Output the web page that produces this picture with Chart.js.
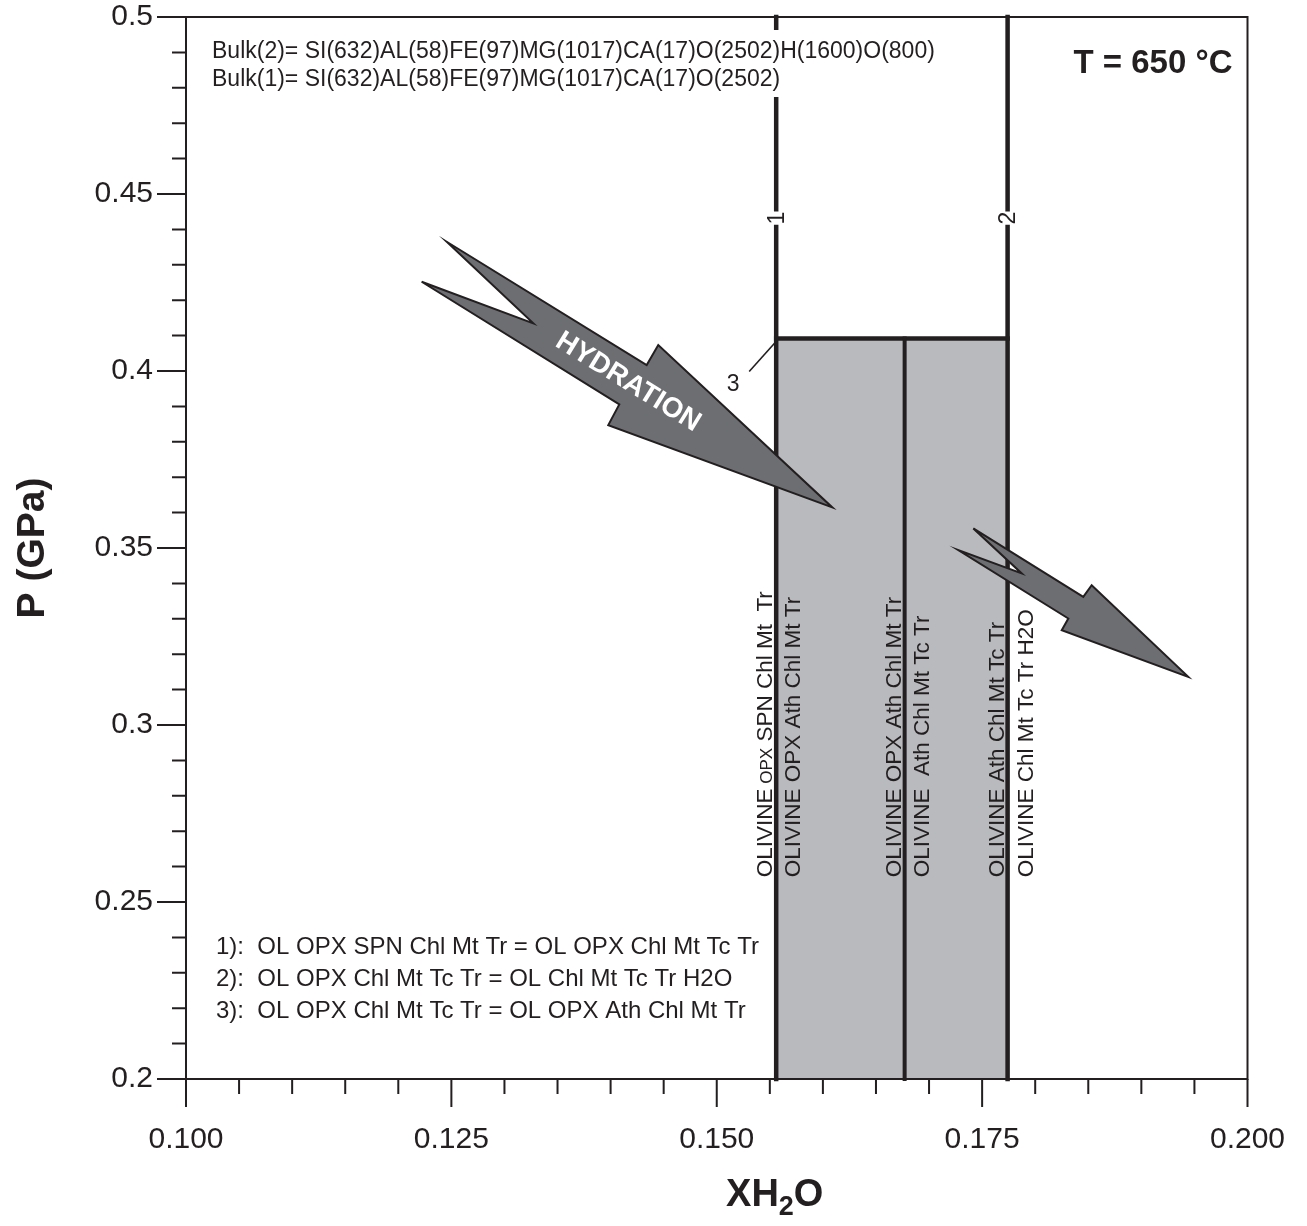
<!DOCTYPE html>
<html>
<head>
<meta charset="utf-8">
<title>XH2O - P section, T = 650 °C</title>
<script src="https://cdn.jsdelivr.net/npm/chart.js@4.4.1/dist/chart.umd.min.js"></script>
<style>
  html, body { margin: 0; padding: 0; background: #fff; }
  #wrap { width: 1307px; height: 1226px; }
</style>
</head>
<body>
<div id="wrap"><canvas id="phaseChart" width="1307" height="1226"></canvas></div>
<script>
// ---- axes -----------------------------------------------------------------
const xRange = [0.100, 0.200];
const yRange = [0.2, 0.5];
const xMajorTicks = [0.100, 0.125, 0.150, 0.175, 0.200];
const xTickLabels = ['0.100', '0.125', '0.150', '0.175', '0.200'];
const yMajorTicks = [0.2, 0.25, 0.3, 0.35, 0.4, 0.45, 0.5];
const yTickLabels = ['0.2', '0.25', '0.3', '0.35', '0.4', '0.45', '0.5'];
const xMinorStep = 0.005;
const yMinorStep = 0.01;

// ---- reaction boundaries --------------------------------------------------
const reaction1X = 0.1556;   // OL OPX SPN Chl Mt Tr = OL OPX Chl Mt Tc Tr
const athInX = 0.1677;       // Ath-in boundary inside the field
const reaction2X = 0.1774;   // OL OPX Chl Mt Tc Tr = OL Chl Mt Tc Tr H2O
const reaction3P = 0.4092;   // OL OPX Chl Mt Tc Tr = OL OPX Ath Chl Mt Tr
const labelGapP = [0.4407, 0.4457];  // break in lines 1 and 2 for their numbers
const lineNumberP = 0.4432;
const fieldLabelP = 0.257;   // where the vertical assemblage labels start

// ---- arrows (outline vertices in XH2O / P) --------------------------------
const hydrationArrowX = [0.12456, 0.14340, 0.14449, 0.16089, 0.13978, 0.14082, 0.12220, 0.13272];
const hydrationArrowP = [0.43651, 0.40167, 0.40732, 0.36146, 0.38471, 0.39056, 0.42521, 0.41345];
const outflowArrowX = [0.17417, 0.18453, 0.18532, 0.19442, 0.18250, 0.18312, 0.17275, 0.17873];
const outflowArrowP = [0.35552, 0.33620, 0.33950, 0.31359, 0.32679, 0.33009, 0.34939, 0.34281];
const hydrationTextAt = [0.14164, 0.39686];

// ---- text ----------------------------------------------------------------
const bulkLines = [
  'Bulk(2)= SI(632)AL(58)FE(97)MG(1017)CA(17)O(2502)H(1600)O(800)',
  'Bulk(1)= SI(632)AL(58)FE(97)MG(1017)CA(17)O(2502)'
];
const reactionLines = [
  '1):  OL OPX SPN Chl Mt Tr = OL OPX Chl Mt Tc Tr',
  '2):  OL OPX Chl Mt Tc Tr = OL Chl Mt Tc Tr H2O',
  '3):  OL OPX Chl Mt Tc Tr = OL OPX Ath Chl Mt Tr'
];
const temperatureLabel = 'T = 650 °C';

const ink = '#231f20';
const fieldGrey = '#b9babd';
const arrowGrey = '#6d6e71';
const FONT = "'Liberation Sans', Arial, Helvetica, sans-serif";
const font = (size, weight) => (weight || 'normal') + ' ' + size + 'px ' + FONT;

Chart.defaults.font.family = FONT;
Chart.defaults.color = ink;

// a vertical boundary with a short break where its number is written
function brokenLine(x) {
  return [
    { x: x, y: yRange[1] }, { x: x, y: labelGapP[1] },
    { x: x, y: null },
    { x: x, y: labelGapP[0] }, { x: x, y: yRange[0] }
  ];
}

// assemblage labels written up the boundaries; dx is the baseline offset in px
const fieldLabels = [
  { x: reaction1X, dx: -4, parts: [['OLIVINE', 22.5], [' OPX', 17], [' SPN Chl Mt  Tr', 22.5]] },
  { x: reaction1X, dx: 24, parts: [['OLIVINE OPX Ath Chl Mt Tr', 22.5]] },
  { x: athInX, dx: -4, parts: [['OLIVINE OPX Ath Chl Mt Tr', 22.5]] },
  { x: athInX, dx: 24, parts: [['OLIVINE  Ath Chl Mt Tc Tr', 22.5]] },
  { x: reaction2X, dx: -4, parts: [['OLIVINE Ath Chl Mt Tc Tr', 22.5]] },
  { x: reaction2X, dx: 25, parts: [['OLIVINE Chl Mt Tc Tr H2O', 22.5]] }
];

function drawArrow(ctx, xs, ps, x, y) {
  ctx.beginPath();
  xs.forEach((v, i) => {
    const px = x.getPixelForValue(v), py = y.getPixelForValue(ps[i]);
    if (i === 0) ctx.moveTo(px, py); else ctx.lineTo(px, py);
  });
  ctx.closePath();
  ctx.fillStyle = arrowGrey;
  ctx.fill();
  ctx.lineWidth = 2;
  ctx.lineJoin = 'miter';
  ctx.strokeStyle = ink;
  ctx.stroke();
}

const phaseDecor = {
  id: 'phaseDecor',
  afterDatasetsDraw(chart) {
    const { ctx, chartArea: a, scales: { x, y } } = chart;
    ctx.save();

    drawArrow(ctx, hydrationArrowX, hydrationArrowP, x, y);
    drawArrow(ctx, outflowArrowX, outflowArrowP, x, y);

    // HYDRATION along the big arrow
    const ax0 = x.getPixelForValue(hydrationArrowX[0]), ay0 = y.getPixelForValue(hydrationArrowP[0]);
    const ax1 = x.getPixelForValue(hydrationArrowX[1]), ay1 = y.getPixelForValue(hydrationArrowP[1]);
    ctx.save();
    ctx.translate(x.getPixelForValue(hydrationTextAt[0]), y.getPixelForValue(hydrationTextAt[1]));
    ctx.rotate(Math.atan2(ay1 - ay0, ax1 - ax0));
    ctx.font = font(28, 'bold');
    ctx.fillStyle = '#ffffff';
    ctx.textAlign = 'center';
    ctx.textBaseline = 'middle';
    ctx.fillText('HYDRATION', 0, 0);
    ctx.restore();

    // vertical assemblage labels
    ctx.fillStyle = ink;
    ctx.textBaseline = 'alphabetic';
    ctx.textAlign = 'left';
    fieldLabels.forEach(lab => {
      ctx.save();
      ctx.translate(x.getPixelForValue(lab.x) + lab.dx, y.getPixelForValue(fieldLabelP));
      ctx.rotate(-Math.PI / 2);
      let off = 0;
      lab.parts.forEach(([txt, size]) => {
        ctx.font = font(size);
        ctx.fillText(txt, off, 0);
        off += ctx.measureText(txt).width;
      });
      ctx.restore();
    });

    // numbers in the breaks of lines 1 and 2
    [[reaction1X, '1'], [reaction2X, '2']].forEach(([rx, num]) => {
      ctx.save();
      ctx.translate(x.getPixelForValue(rx), y.getPixelForValue(lineNumberP));
      ctx.rotate(-Math.PI / 2);
      ctx.font = font(23);
      ctx.textAlign = 'center';
      ctx.textBaseline = 'middle';
      ctx.fillText(num, 0, 1);
      ctx.restore();
    });

    // reaction 3 tag with its leader
    const cx = x.getPixelForValue(reaction1X), cy = y.getPixelForValue(reaction3P);
    ctx.lineWidth = 1.6;
    ctx.strokeStyle = ink;
    ctx.beginPath();
    ctx.moveTo(cx - 27, cy + 33);
    ctx.lineTo(cx - 1, cy + 4);
    ctx.stroke();
    ctx.font = font(23);
    ctx.textAlign = 'center';
    ctx.textBaseline = 'middle';
    ctx.fillText('3', cx - 43, cy + 46);

    // bulk compositions, knocked out of the boundary lines behind them
    ctx.textAlign = 'left';
    ctx.textBaseline = 'alphabetic';
    ctx.font = font(23);
    const bulkW = Math.max(...bulkLines.map(t => ctx.measureText(t).width));
    ctx.fillStyle = '#ffffff';
    ctx.fillRect(a.left + 22, a.top + 13, bulkW + 8, 67);
    ctx.fillStyle = ink;
    bulkLines.forEach((t, i) => ctx.fillText(t, a.left + 26, a.top + 41 + i * 28));
    ctx.font = font(33, 'bold');
    ctx.textAlign = 'right';
    ctx.fillText(temperatureLabel, a.right - 15, a.top + 56);

    // reaction list
    ctx.textAlign = 'left';
    ctx.font = font(24);
    reactionLines.forEach((t, i) => ctx.fillText(t, a.left + 30, a.bottom - 125 + i * 32));

    ctx.restore();
  },
  afterDraw(chart) {
    const { ctx, chartArea: a, scales: { x, y } } = chart;
    ctx.save();
    ctx.strokeStyle = ink;
    ctx.lineWidth = 2;
    ctx.strokeRect(a.left, a.top, a.right - a.left, a.bottom - a.top);

    // outward ticks, long at labelled values
    ctx.beginPath();
    const nx = Math.round((xRange[1] - xRange[0]) / xMinorStep);
    for (let i = 0; i <= nx; i++) {
      const px = x.getPixelForValue(xRange[0] + i * xMinorStep);
      ctx.moveTo(px, a.bottom);
      ctx.lineTo(px, a.bottom + (i % 5 === 0 ? 28 : 15));
    }
    const ny = Math.round((yRange[1] - yRange[0]) / yMinorStep);
    for (let i = 0; i <= ny; i++) {
      const py = y.getPixelForValue(yRange[0] + i * yMinorStep);
      ctx.moveTo(a.left, py);
      ctx.lineTo(a.left - (i % 5 === 0 ? 29 : 14), py);
    }
    ctx.stroke();

    // axis titles
    ctx.fillStyle = ink;
    ctx.save();
    ctx.translate(33, (a.top + a.bottom) / 2);
    ctx.rotate(-Math.PI / 2);
    ctx.font = font(39, 'bold');
    ctx.textAlign = 'center';
    ctx.textBaseline = 'middle';
    ctx.fillText('P (GPa)', 0, 0);
    ctx.restore();

    const parts = [['XH', 38, 0], ['2', 27, 9], ['O', 38, 0]];
    let total = 0;
    parts.forEach(([t, s]) => { ctx.font = font(s, 'bold'); total += ctx.measureText(t).width; });
    let tx = (a.left + a.right) / 2 + 58 - total / 2;
    ctx.textAlign = 'left';
    ctx.textBaseline = 'alphabetic';
    parts.forEach(([t, s, dy]) => {
      ctx.font = font(s, 'bold');
      ctx.fillText(t, tx, 1206 + dy);
      tx += ctx.measureText(t).width;
    });
    ctx.restore();
  }
};

const lineStyle = {
  showLine: true,
  borderColor: ink,
  pointRadius: 0,
  borderCapStyle: 'square',
  clip: false,
  fill: false
};

new Chart(document.getElementById('phaseChart'), {
  type: 'scatter',
  data: {
    datasets: [
      Object.assign({ label: 'Reaction 1', data: brokenLine(reaction1X), borderWidth: 4.5 }, lineStyle),
      Object.assign({ label: 'Reaction 2', data: brokenLine(reaction2X), borderWidth: 4.5 }, lineStyle),
      Object.assign({ label: 'Ath-in', data: [{ x: athInX, y: reaction3P }, { x: athInX, y: yRange[0] }], borderWidth: 4 }, lineStyle),
      Object.assign({}, lineStyle, {
        label: 'Reaction 3',
        data: [{ x: reaction1X, y: reaction3P }, { x: reaction2X, y: reaction3P }],
        borderWidth: 4.5,
        fill: 'start',
        backgroundColor: fieldGrey
      })
    ]
  },
  options: {
    responsive: false,
    animation: false,
    events: [],
    layout: { padding: { top: 17, right: 59.5, bottom: 0, left: 0 } },
    plugins: { legend: { display: false }, tooltip: { enabled: false } },
    scales: {
      x: {
        type: 'linear',
        min: xRange[0],
        max: xRange[1],
        afterBuildTicks: s => { s.ticks = xMajorTicks.map(v => ({ value: v })); },
        // fixed axis band; end labels may hang into the outer margin
        afterFit: s => { s.height = 147; s.paddingLeft = 0; s.paddingRight = 0; },
        grid: { drawOnChartArea: false, drawTicks: false },
        border: { color: ink, width: 2 },
        ticks: {
          padding: 46, color: ink, autoSkip: false, maxRotation: 0,
          font: { size: 30, lineHeight: 1 },
          callback: (v, i) => xTickLabels[i]
        }
      },
      y: {
        type: 'linear',
        min: yRange[0],
        max: yRange[1],
        afterBuildTicks: s => { s.ticks = yMajorTicks.map(v => ({ value: v })); },
        afterFit: s => { s.width = 186; s.paddingTop = 0; s.paddingBottom = 0; },
        grid: { drawOnChartArea: false, drawTicks: false },
        border: { color: ink, width: 2 },
        ticks: {
          padding: 33, color: ink, autoSkip: false,
          font: { size: 30, lineHeight: 1 },
          callback: (v, i) => yTickLabels[i]
        }
      }
    }
  },
  plugins: [phaseDecor]
});
</script>
</body>
</html>
